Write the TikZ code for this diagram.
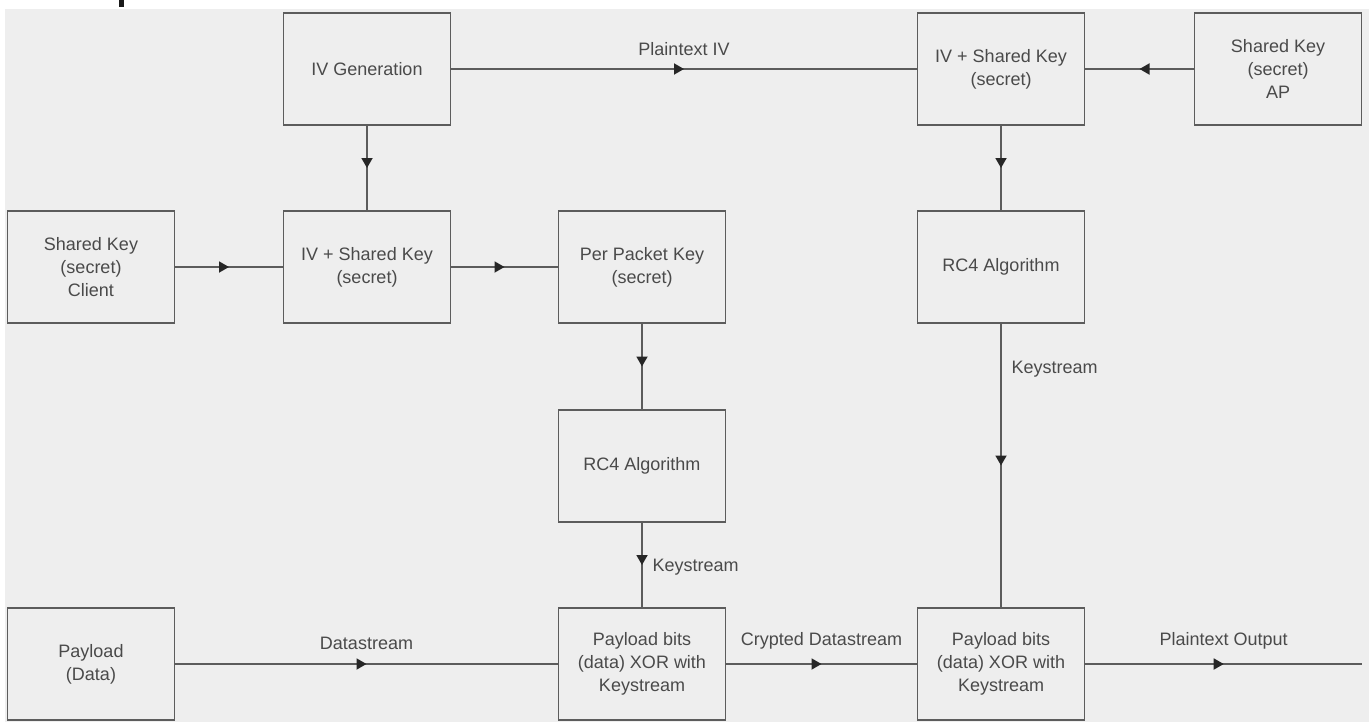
\documentclass[tikz,border=0pt]{standalone}
\usepackage{fontspec}
\setmainfont{Liberation Sans}
\usetikzlibrary{arrows.meta,decorations.markings}
\definecolor{bggray}{HTML}{EEEEEE}
\definecolor{linegray}{HTML}{5C5C5C}
\definecolor{textgray}{HTML}{4A4A4A}
\tikzset{
	block/.style={shape=rectangle, draw=linegray, line width=0.9pt, minimum width=83.5pt, minimum height=56pt, inner sep=1pt, align=center, text=textgray, font=\fontsize{9}{11.5}\selectfont},
	flow/.style={draw=linegray, line width=0.9pt, postaction={decorate}, decoration={markings, mark=at position 0.5 with {\arrow{Triangle[length=5pt,width=5.5pt,color=black!85]}}}},
	flowlabel/.style={text=textgray, font=\fontsize{9}{11.5}\selectfont}
}
\begin{document}
\begin{tikzpicture}[x=0.5pt, y=-0.5pt]
		% canvas
		\useasboundingbox (0, 0) rectangle (1369, 722);
		\fill[bggray] (5, 9) rectangle (1369, 722);
		\fill[black!90] (119, 0) rectangle (124, 7);
		% sender nodes
		\node[block] (IVG) at (367, 69) {IV Generation};
		\node[block] (SKC) at (91, 267) {Shared Key\\(secret)\\Client};
		\node[block] (IVS) at (367, 267) {IV + Shared Key\\(secret)};
		\node[block] (PPK) at (642, 267) {Per Packet Key\\(secret)};
		\node[block] (RC4S) at (642, 466) {RC4 Algorithm};
		\node[block] (PAY) at (91, 664) {Payload\\(Data)};
		\node[block] (XORS) at (642, 664) {Payload bits\\(data) XOR with\\Keystream};
		% receiver nodes
		\node[block] (IVR) at (1001, 69) {IV + Shared Key\\(secret)};
		\node[block] (SKA) at (1278, 69) {Shared Key\\(secret)\\AP};
		\node[block] (RC4R) at (1001, 267) {RC4 Algorithm};
		\node[block] (XORR) at (1001, 664) {Payload bits\\(data) XOR with\\Keystream};
		\coordinate (OUT) at (1362, 664);
		% sender connections
		\draw[flow] (IVG) -- (IVS);
		\draw[flow] (SKC) -- (IVS);
		\draw[flow] (IVS) -- (PPK);
		\draw[flow] (PPK) -- (RC4S);
		\draw[flow] (RC4S) -- node[flowlabel, right=1.5pt, pos=0.52] {Keystream} (XORS);
		\draw[flow] (PAY) -- node[flowlabel, above=3.5pt] {Datastream} (XORS);
		% receiver connections
		\draw[flow] (IVG) -- node[flowlabel, above=3pt] {Plaintext IV} (IVR);
		\draw[flow] (SKA) -- (IVR);
		\draw[flow] (IVR) -- (RC4R);
		\draw[flow] (RC4R) -- node[flowlabel, right=1.5pt, pos=0.16] {Keystream} (XORR);
		\draw[flow] (XORS) -- node[flowlabel, above=3.5pt] {Crypted Datastream} (XORR);
		\draw[flow] (XORR) -- node[flowlabel, above=3.5pt] {Plaintext Output} (OUT);
	\end{tikzpicture}
\end{document}
